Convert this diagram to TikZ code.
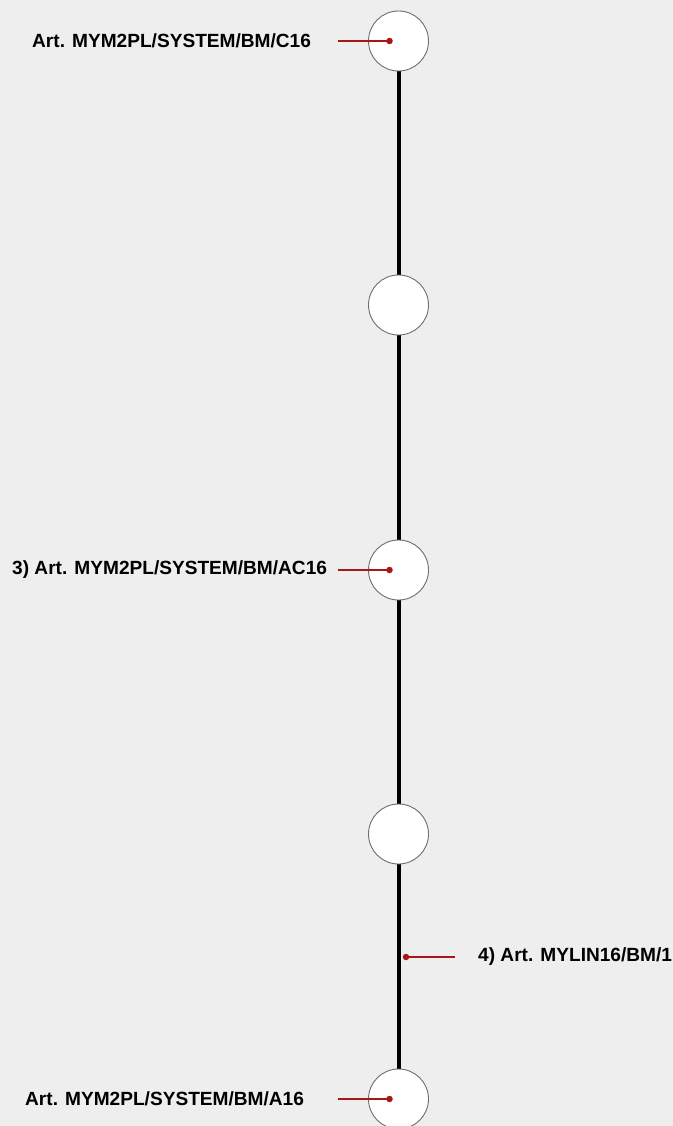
\documentclass[tikz,border=0pt]{standalone}
\usepackage{fontspec}
\setmainfont{Liberation Sans}
\definecolor{bg}{RGB}{238,238,238}
\definecolor{leadred}{RGB}{168,22,22}
\definecolor{ringgray}{RGB}{110,110,110}
\begin{document}
\begin{tikzpicture}[x=1pt,y=-1pt,
  joint/.style={circle,draw=ringgray,line width=0.9pt,fill=white,minimum size=60pt,inner sep=0pt},
  rod/.style={line width=4pt,black},
  lead/.style={leadred,line width=1.4pt},
  tag/.style={font=\bfseries\fontsize{19.1}{22}\selectfont,inner sep=0pt,anchor=west,text=black},
  dotmark/.style={circle,fill=leadred,inner sep=0pt,minimum size=6.5pt}]
\useasboundingbox (0,0) rectangle (672,1126);
\fill[bg] (-3,-3) rectangle (675,1129);
\coordinate (c1) at (398.5,41);
\coordinate (c2) at (398.5,305);
\coordinate (c3) at (398.5,570);
\coordinate (c4) at (398.5,834);
\coordinate (c5) at (398.5,1099);
\draw[rod] (c1) -- (c2) -- (c3) -- (c4) -- (c5);
\node[joint] (j1) at (c1) {};
\node[joint] (j2) at (c2) {};
\node[joint] (j3) at (c3) {};
\node[joint] (j4) at (c4) {};
\node[joint] (j5) at (c5) {};
% labels
\node[tag] (t1) at (32,41) {Art. MYM2PL/SYSTEM/BM/C16};
\node[tag] (t3) at (12,570) {3) Art. MYM2PL/SYSTEM/BM/AC16};
\node[tag] (t5) at (25,1099) {Art. MYM2PL/SYSTEM/BM/A16};
\node[tag] (t4) at (478,957) {4) Art. MYLIN16/BM/1};
% leaders
\coordinate (s1) at (338,41);
\coordinate (s3) at (338,570);
\coordinate (s5) at (338,1099);
\coordinate (s4) at (455,957);
\node[dotmark] (d1) at (389.5,41) {};
\node[dotmark] (d3) at (389.5,570) {};
\node[dotmark] (d5) at (389.5,1099) {};
\node[dotmark] (d4) at (406,957) {};
\draw[lead] (s1) -- (d1.center);
\draw[lead] (s3) -- (d3.center);
\draw[lead] (s5) -- (d5.center);
\draw[lead] (s4) -- (d4.center);
\end{tikzpicture}
\end{document}
